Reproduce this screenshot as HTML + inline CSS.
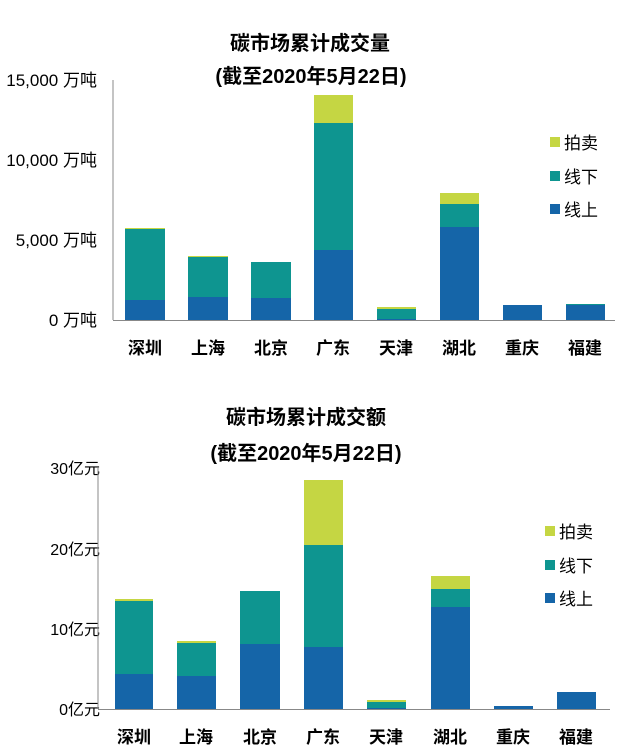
<!DOCTYPE html>
<html><head><meta charset="utf-8"><style>
body{margin:0;background:#fff;width:628px;height:756px;overflow:hidden}
svg{display:block}
text{font-family:"Liberation Sans","Noto Sans CJK SC",sans-serif}
</style></head><body>
<svg width="628" height="756" viewBox="0 0 628 756">
<g font-weight="bold" font-size="20" fill="#000" text-anchor="middle">
<text x="310" y="50">碳市场累计成交量</text>
<text x="311" y="83">(截至2020年5月22日)</text>
<text x="306" y="424">碳市场累计成交额</text>
<text x="306" y="460">(截至2020年5月22日)</text>
</g>
<g font-size="17" fill="#000" text-anchor="end">
<text x="97" y="86">15,000 万吨</text>
<text x="97" y="166">10,000 万吨</text>
<text x="97" y="246">5,000 万吨</text>
<text x="97" y="326">0 万吨</text>
</g>
<g font-size="16" fill="#000" text-anchor="end">
<text x="100" y="474">30亿元</text>
<text x="100" y="555">20亿元</text>
<text x="100" y="635">10亿元</text>
<text x="100" y="715">0亿元</text>
</g>
<line x1="113" y1="80" x2="113" y2="320" stroke="#888"/>
<line x1="113" y1="320.5" x2="615" y2="320.5" stroke="#888"/>
<line x1="98" y1="468" x2="98" y2="709" stroke="#888"/>
<line x1="98" y1="709.5" x2="610" y2="709.5" stroke="#888"/>
<g>
<rect x="125" y="300" width="40" height="20" fill="#1565a8"/><rect x="125" y="229" width="40" height="71" fill="#0e9590"/><rect x="125" y="228" width="40" height="1" fill="#c5d643"/>
<rect x="188" y="297" width="40" height="23" fill="#1565a8"/><rect x="188" y="257" width="40" height="40" fill="#0e9590"/><rect x="188" y="256" width="40" height="1" fill="#c5d643"/>
<rect x="251" y="298" width="40" height="22" fill="#1565a8"/><rect x="251" y="262" width="40" height="36" fill="#0e9590"/>
<rect x="314" y="250" width="39" height="70" fill="#1565a8"/><rect x="314" y="123" width="39" height="127" fill="#0e9590"/><rect x="314" y="95" width="39" height="28" fill="#c5d643"/>
<rect x="377" y="319" width="39" height="1" fill="#1565a8"/><rect x="377" y="309" width="39" height="10" fill="#0e9590"/><rect x="377" y="307" width="39" height="2" fill="#c5d643"/>
<rect x="440" y="227" width="39" height="93" fill="#1565a8"/><rect x="440" y="204" width="39" height="23" fill="#0e9590"/><rect x="440" y="193" width="39" height="11" fill="#c5d643"/>
<rect x="503" y="305" width="39" height="15" fill="#1565a8"/>
<rect x="566" y="305" width="39" height="15" fill="#1565a8"/><rect x="566" y="304" width="39" height="1" fill="#0e9590"/>
</g>
<g>
<rect x="115" y="674" width="38" height="35" fill="#1565a8"/><rect x="115" y="601" width="38" height="73" fill="#0e9590"/><rect x="115" y="599" width="38" height="2" fill="#c5d643"/>
<rect x="177" y="676" width="39" height="33" fill="#1565a8"/><rect x="177" y="643" width="39" height="33" fill="#0e9590"/><rect x="177" y="641" width="39" height="2" fill="#c5d643"/>
<rect x="240" y="644" width="40" height="65" fill="#1565a8"/><rect x="240" y="591" width="40" height="53" fill="#0e9590"/>
<rect x="304" y="647" width="39" height="62" fill="#1565a8"/><rect x="304" y="545" width="39" height="102" fill="#0e9590"/><rect x="304" y="480" width="39" height="65" fill="#c5d643"/>
<rect x="367" y="708" width="39" height="1" fill="#1565a8"/><rect x="367" y="702" width="39" height="6" fill="#0e9590"/><rect x="367" y="700" width="39" height="2" fill="#c5d643"/>
<rect x="431" y="607" width="39" height="102" fill="#1565a8"/><rect x="431" y="589" width="39" height="18" fill="#0e9590"/><rect x="431" y="576" width="39" height="13" fill="#c5d643"/>
<rect x="494" y="706" width="39" height="3" fill="#1565a8"/>
<rect x="557" y="692" width="39" height="17" fill="#1565a8"/>
</g>
<g font-weight="bold" font-size="17" fill="#000" text-anchor="middle">
<text x="145" y="354">深圳</text><text x="208" y="354">上海</text><text x="271" y="354">北京</text><text x="333" y="354">广东</text><text x="396" y="354">天津</text><text x="459" y="354">湖北</text><text x="522" y="354">重庆</text><text x="585" y="354">福建</text>
<text x="134" y="743">深圳</text><text x="196" y="743">上海</text><text x="260" y="743">北京</text><text x="323" y="743">广东</text><text x="386" y="743">天津</text><text x="450" y="743">湖北</text><text x="513" y="743">重庆</text><text x="576" y="743">福建</text>
</g>
<g font-size="17" fill="#000">
<rect x="550" y="137" width="10" height="10" fill="#c5d643"/><text x="564" y="149">拍卖</text>
<rect x="550" y="171" width="10" height="10" fill="#0e9590"/><text x="564" y="183">线下</text>
<rect x="550" y="204" width="10" height="10" fill="#1565a8"/><text x="564" y="216">线上</text>
<rect x="545" y="526" width="10" height="10" fill="#c5d643"/><text x="559" y="538">拍卖</text>
<rect x="545" y="560" width="10" height="10" fill="#0e9590"/><text x="559" y="572">线下</text>
<rect x="545" y="593" width="10" height="10" fill="#1565a8"/><text x="559" y="605">线上</text>
</g>
</svg>
</body></html>
